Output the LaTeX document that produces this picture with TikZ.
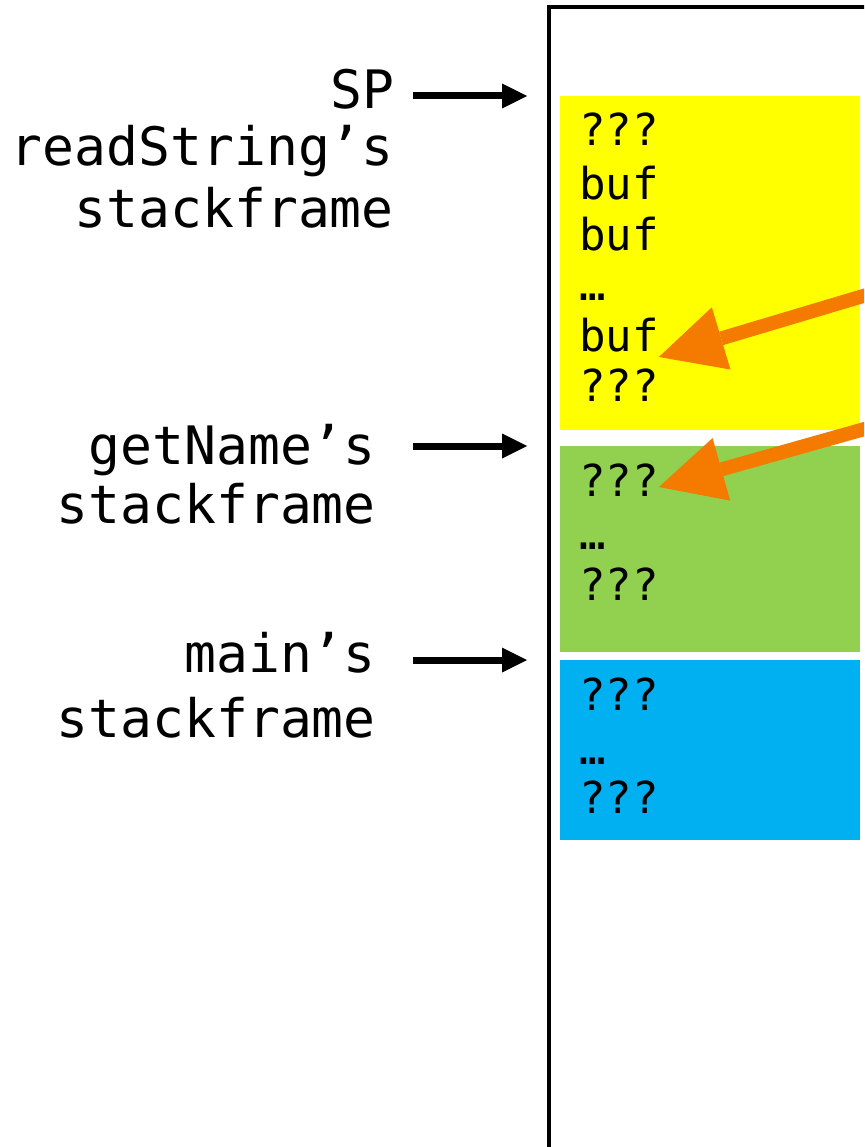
\documentclass[tikz,border=0pt]{standalone}
\usepackage{fontspec}
\setmonofont{DejaVu Sans Mono}
\usetikzlibrary{arrows.meta,calc}

\definecolor{frameyellow}{RGB}{255,255,0}
\definecolor{framegreen}{RGB}{146,208,80}
\definecolor{frameblue}{RGB}{0,176,240}
\definecolor{ptrorange}{RGB}{245,123,0}

\begin{document}
\begin{tikzpicture}[x=1pt,y=-1pt,
  lbl/.style={font=\ttfamily\fontsize{53}{62}\selectfont, inner sep=0pt, anchor=base east},
  cell/.style={font=\ttfamily\fontsize{44}{52}\selectfont, inner sep=0pt, anchor=base west},
  stackframe/.style={draw=none, inner sep=0pt, outer sep=0pt, anchor=north west, minimum width=300},
  ptr/.style={line width=7pt, -{Triangle[length=25pt,width=25pt,line width=0pt]}},
  overflow/.style={draw=ptrorange, line width=14pt, -{Triangle[length=65pt,width=65pt,line width=0pt]}}
]
\useasboundingbox (0,0) rectangle (864,1147);
\clip (0,0) rectangle (864,1147);

% memory region outline (open at the bottom and right)
\draw[line width=4pt] (549,1170) -- (549,7) -- (890,7);

% stack frames
\node[stackframe, fill=frameyellow, minimum height=334] (rsframe) at (560,96) {};
\node[stackframe, fill=framegreen,  minimum height=206] (gnframe) at (560,446) {};
\node[stackframe, fill=frameblue,   minimum height=180] (mnframe) at (560,660) {};

% readString's frame contents
\node[cell] (r1) at (579,146) {???};
\node[cell] (r2) at (579,200) {buf};
\node[cell] (r3) at (579,251) {buf};
\node[cell] (r4) at (579,300) {…};
\node[cell] (r5) at (579,351) {buf};
\node[cell] (r6) at (579,401) {???};

% getName's frame contents
\node[cell] (g1) at (579,496) {???};
\node[cell] (g2) at (579,549) {…};
\node[cell] (g3) at (579,600) {???};

% main's frame contents
\node[cell] (m1) at (579,710) {???};
\node[cell] (m2) at (579,764) {…};
\node[cell] (m3) at (579,813) {???};

% labels
\node[lbl] (sp)  at (395,109) {SP};
\node[lbl] (rs1) at (394,166) {readString’s};
\node[lbl] (rs2) at (394,228) {stackframe};
\node[lbl] (gn1) at (376,464) {getName’s};
\node[lbl] (gn2) at (376,523) {stackframe};
\node[lbl] (mn1) at (376,672) {main’s};
\node[lbl] (mn2) at (376,737) {stackframe};

% frame pointers
\draw[ptr] ([xshift=-147pt]rsframe.north west) -- ([xshift=-33pt]rsframe.north west);
\draw[ptr] ([xshift=-147pt]gnframe.north west) -- ([xshift=-33pt]gnframe.north west);
\draw[ptr] ([xshift=-147pt]mnframe.north west) -- ([xshift=-33pt]mnframe.north west);

% pointers coming in from the right
\coordinate (src1) at (900,285);
\coordinate (src2) at (900,419);
\draw[overflow] (src1) -- ([yshift=-6pt]r5.base east);
\draw[overflow] (src2) -- ([yshift=9pt]g1.base east);
\end{tikzpicture}
\end{document}
